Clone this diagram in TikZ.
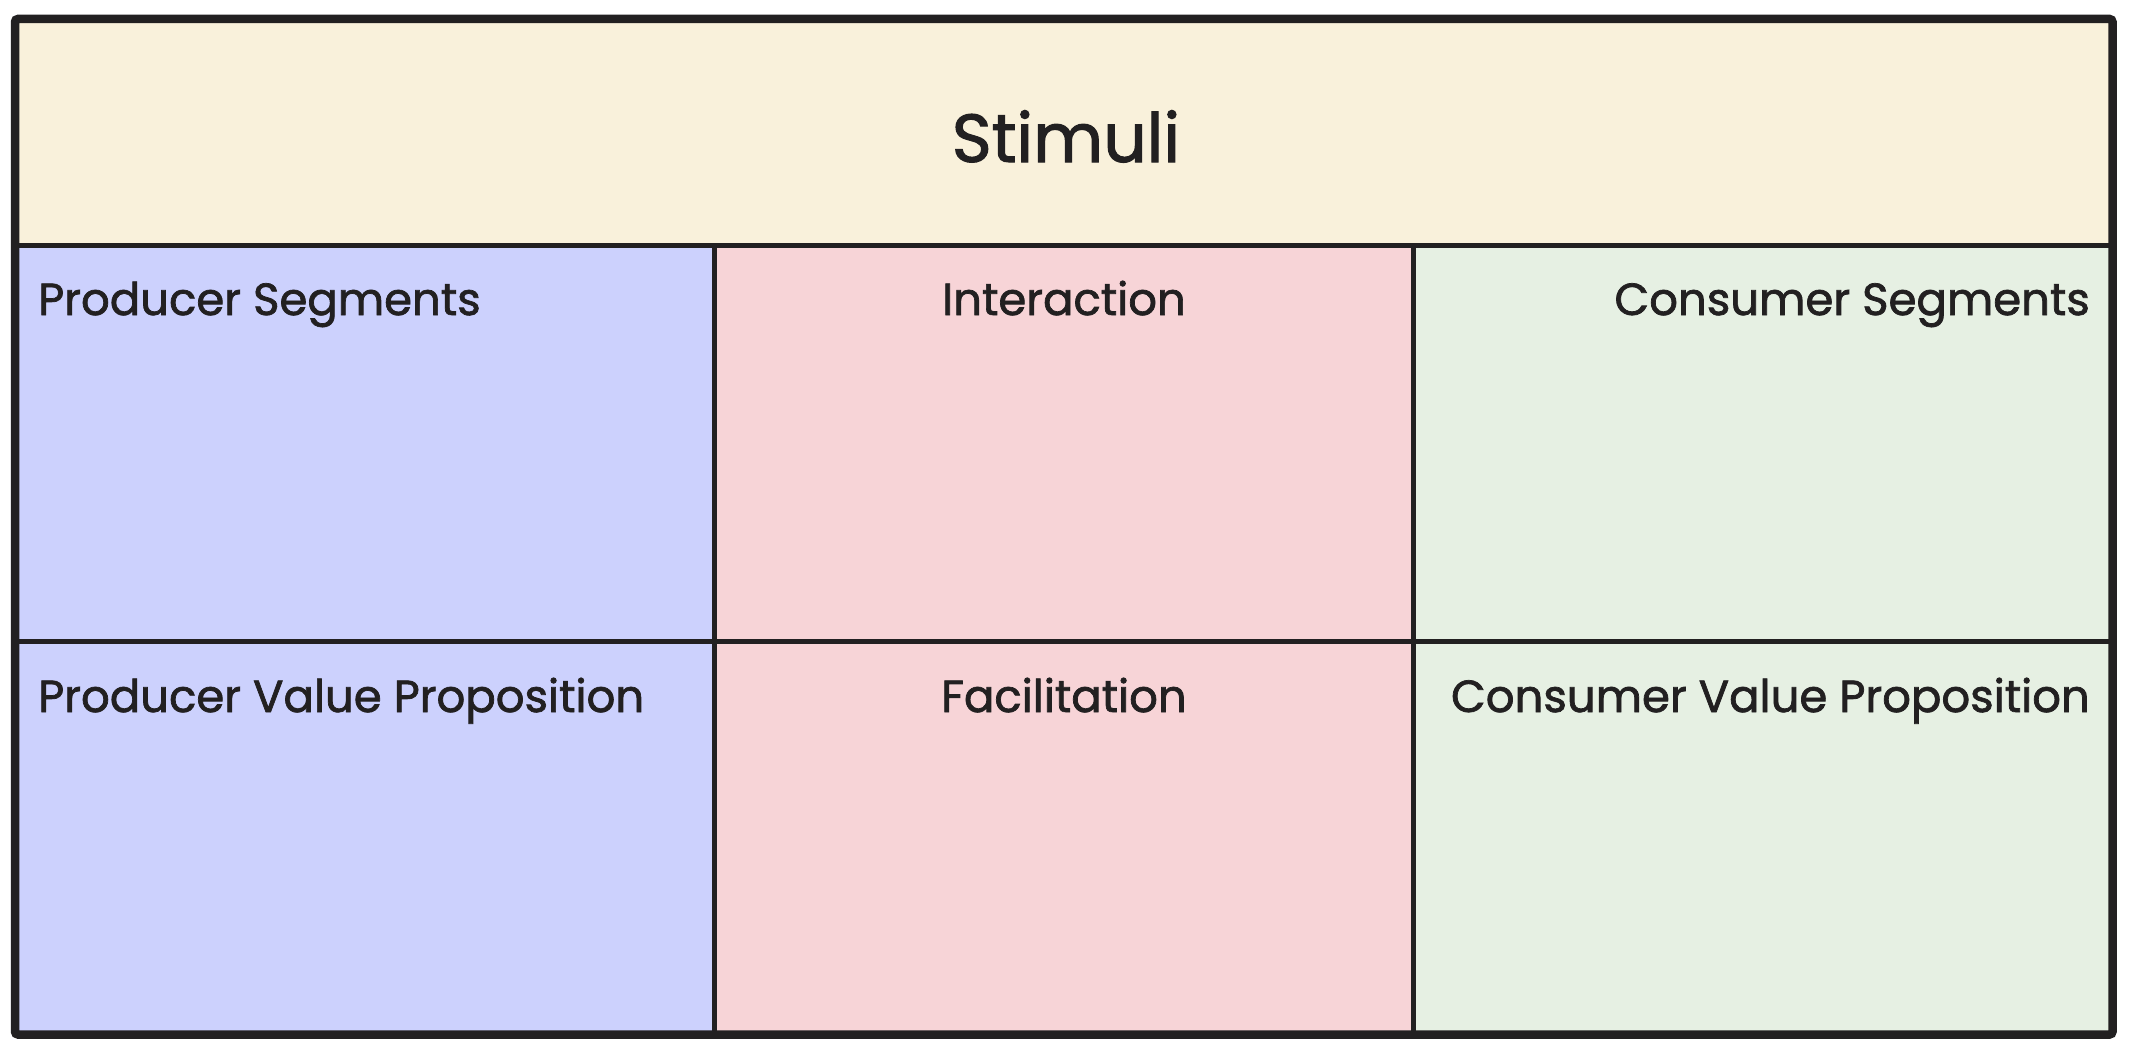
\documentclass[tikz,border=0pt]{standalone}
\usepackage{fontspec}
\setmainfont{Poppins}[FakeBold=1.6]
\definecolor{ink}{HTML}{222021}
\definecolor{headfill}{HTML}{F9F1DB}
\definecolor{bluefill}{HTML}{CCD1FD}
\definecolor{pinkfill}{HTML}{F7D4D7}
\definecolor{greenfill}{HTML}{E6F0E3}
\tikzset{
  cell/.style={draw=none, inner sep=0pt, outer sep=0pt, anchor=north west},
  lbl/.style={text=ink, inner sep=0pt, font=\fontsize{45}{50}\selectfont},
  title/.style={text=ink, inner sep=0pt, font=\fontsize{68}{76}\selectfont},
  divider/.style={draw=ink, line width=5pt},
  frame/.style={draw=ink, line width=8.5pt, rounded corners=3pt}
}
\begin{document}
\begin{tikzpicture}[x=1pt,y=-1pt]
\useasboundingbox (0,0) rectangle (2136,1054);
% cells
\node[cell, fill=headfill, minimum width=2097.5pt, minimum height=226.5pt] (head) at (15,19) {};
\node[cell, fill=bluefill, minimum width=699.5pt, minimum height=395.5pt] (ps) at (15,245.5) {};
\node[cell, fill=pinkfill, minimum width=699pt, minimum height=395.5pt] (ia) at (714.5,245.5) {};
\node[cell, fill=greenfill, minimum width=699pt, minimum height=395.5pt] (cs) at (1413.5,245.5) {};
\node[cell, fill=bluefill, minimum width=699.5pt, minimum height=393.5pt] (pv) at (15,641) {};
\node[cell, fill=pinkfill, minimum width=699pt, minimum height=393.5pt] (fa) at (714.5,641) {};
\node[cell, fill=greenfill, minimum width=699pt, minimum height=393.5pt] (cv) at (1413.5,641) {};
% dividers
\draw[divider] (head.south west) -- (head.south east);
\draw[divider] (ps.south west) -- (cs.south east);
\draw[divider] (ps.north east) -- (pv.south east);
\draw[divider] (ia.north east) -- (fa.south east);
% frame
\draw[frame] (head.north west) rectangle (cv.south east);
% labels
\node[title, anchor=base] (tstim) at (1066,162) {Stimuli};
\node[lbl, anchor=base west] (tps) at (38,315) {Producer Segments};
\node[lbl, anchor=base] (tia) at (1064,315) {Interaction};
\node[lbl, anchor=base east] (tcs) at (2090,315) {Consumer Segments};
\node[lbl, anchor=base west] (tpv) at (38,712) {Producer Value Proposition};
\node[lbl, anchor=base] (tfa) at (1064,712) {Facilitation};
\node[lbl, anchor=base east] (tcv) at (2090,712) {Consumer Value Proposition};
\end{tikzpicture}
\end{document}
